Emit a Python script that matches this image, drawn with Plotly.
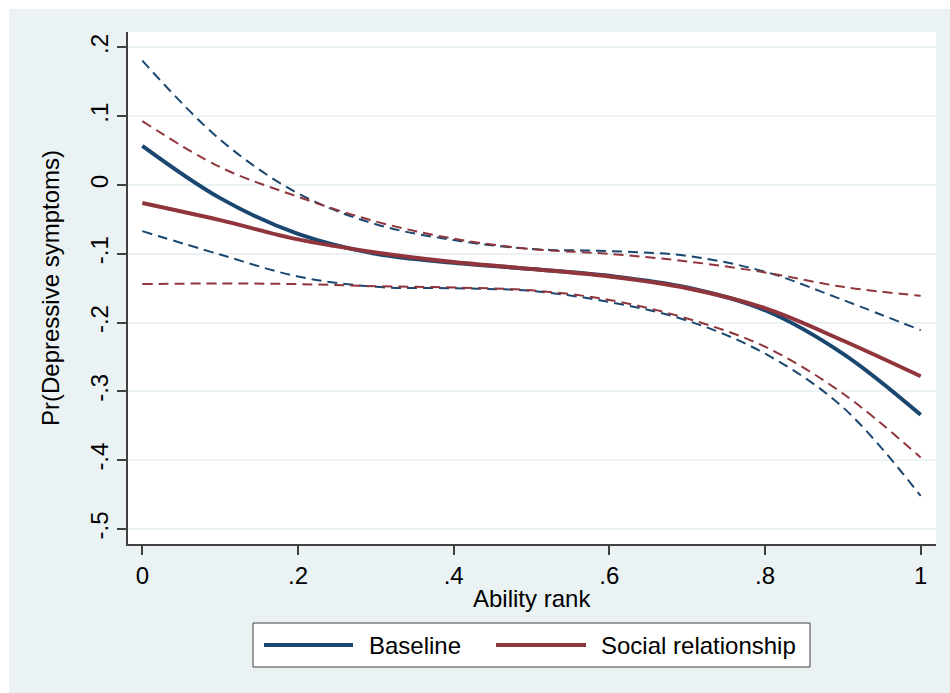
import plotly.graph_objects as go

# Predicted probability of depressive symptoms by ability rank, with 95% CIs
ability_rank = [0.0, 0.1, 0.2, 0.3, 0.4, 0.5, 0.6, 0.7, 0.8, 0.9, 1.0]

baseline = [0.057, -0.019, -0.071, -0.100, -0.113, -0.122, -0.132, -0.149, -0.182, -0.245, -0.334]
baseline_upper = [0.181, 0.066, -0.012, -0.057, -0.080, -0.093, -0.096, -0.103, -0.126, -0.167, -0.211]
baseline_lower = [-0.067, -0.101, -0.133, -0.148, -0.150, -0.154, -0.170, -0.197, -0.245, -0.323, -0.452]

social = [-0.026, -0.051, -0.079, -0.098, -0.112, -0.122, -0.133, -0.150, -0.179, -0.226, -0.278]
social_upper = [0.093, 0.026, -0.017, -0.053, -0.078, -0.093, -0.100, -0.111, -0.127, -0.148, -0.161]
social_lower = [-0.144, -0.143, -0.144, -0.147, -0.149, -0.153, -0.167, -0.194, -0.235, -0.303, -0.396]

x_tick_vals = [0, 0.2, 0.4, 0.6, 0.8, 1]
x_tick_text = ["0", ".2", ".4", ".6", ".8", "1"]
y_tick_vals = [0.2, 0.1, 0, -0.1, -0.2, -0.3, -0.4, -0.5]
y_tick_text = [".2", ".1", "0", "-.1", "-.2", "-.3", "-.4", "-.5"]

NAVY = "#1A476F"
MAROON = "#90353B"
BG = "#EAF2F3"
FONT = "Liberation Sans, Arial, sans-serif"
FS = 24

W, H = 950, 693
L, R, T, B = 128, 14, 32, 149
PW, PH = W - L - R, H - T - B


def px_x(px):
    return (px - L) / PW


def px_y(py):
    return (H - B - py) / PH


fig = go.Figure()

dash = "10px,6px"
for ys, col in [(baseline_upper, NAVY), (baseline_lower, NAVY),
                (social_upper, MAROON), (social_lower, MAROON)]:
    fig.add_trace(go.Scatter(x=ability_rank, y=ys, mode="lines",
                             line=dict(color=col, width=2, dash=dash, shape="spline", smoothing=1.0),
                             showlegend=False, hoverinfo="skip"))

fig.add_trace(go.Scatter(x=ability_rank, y=baseline, mode="lines", name="Baseline",
                         line=dict(color=NAVY, width=4, shape="spline", smoothing=1.0), showlegend=False))
fig.add_trace(go.Scatter(x=ability_rank, y=social, mode="lines", name="Social relationship",
                         line=dict(color=MAROON, width=4, shape="spline", smoothing=1.0), showlegend=False))

shapes = [
    # white margins around the graph region
    dict(type="rect", xref="paper", yref="paper", layer="below",
         x0=px_x(0), x1=px_x(W), y0=px_y(0), y1=px_y(9), fillcolor="white", line=dict(width=0)),
    dict(type="rect", xref="paper", yref="paper", layer="below",
         x0=px_x(0), x1=px_x(9), y0=px_y(H), y1=px_y(0), fillcolor="white", line=dict(width=0)),
    # legend box
    dict(type="rect", xref="paper", yref="paper",
         x0=px_x(253), x1=px_x(810), y0=px_y(667), y1=px_y(623),
         fillcolor="white", line=dict(color="#404040", width=1)),
    dict(type="line", xref="paper", yref="paper",
         x0=px_x(264), x1=px_x(353), y0=px_y(645), y1=px_y(645),
         line=dict(color=NAVY, width=4)),
    dict(type="line", xref="paper", yref="paper",
         x0=px_x(496), x1=px_x(586), y0=px_y(645), y1=px_y(645),
         line=dict(color=MAROON, width=4)),
]

annotations = [
    dict(text="Baseline", xref="paper", yref="paper", x=px_x(367), y=px_y(645),
         xanchor="left", yanchor="middle", showarrow=False, font=dict(size=FS, color="black")),
    dict(text="Social relationship", xref="paper", yref="paper", x=px_x(599), y=px_y(645),
         xanchor="left", yanchor="middle", showarrow=False, font=dict(size=FS, color="black")),
    dict(text="Ability rank", xref="paper", yref="paper", x=0.5, y=px_y(598),
         xanchor="center", yanchor="middle", showarrow=False, font=dict(size=FS, color="black")),
    dict(text="Pr(Depressive symptoms)", xref="paper", yref="paper", x=px_x(50), y=0.5,
         xanchor="center", yanchor="middle", textangle=-90, showarrow=False,
         font=dict(size=FS, color="black")),
]

fig.update_layout(
    width=W, height=H,
    margin=dict(l=L, r=R, t=T, b=B),
    paper_bgcolor=BG, plot_bgcolor="white",
    font=dict(family=FONT, size=FS, color="black"),
    shapes=shapes, annotations=annotations,
    showlegend=False,
)

fig.update_xaxes(
    range=[-0.0184, 1.0197], tickvals=x_tick_vals, ticktext=x_tick_text,
    ticks="outside", ticklen=9, tickwidth=1.5, tickcolor="#404040",
    showline=True, linecolor="#404040", linewidth=1.5,
    showgrid=False, zeroline=False, tickfont=dict(size=FS, color="black"),
)
fig.update_yaxes(
    range=[-0.5218, 0.2225], tickvals=y_tick_vals, ticktext=y_tick_text,
    ticks="outside", ticklen=9, tickwidth=1.5, tickcolor="#404040", tickangle=-90,
    showline=True, linecolor="#404040", linewidth=1.5,
    showgrid=True, gridcolor=BG, gridwidth=2, zeroline=False,
    tickfont=dict(size=FS, color="black"),
)

fig.write_html("out.html")
